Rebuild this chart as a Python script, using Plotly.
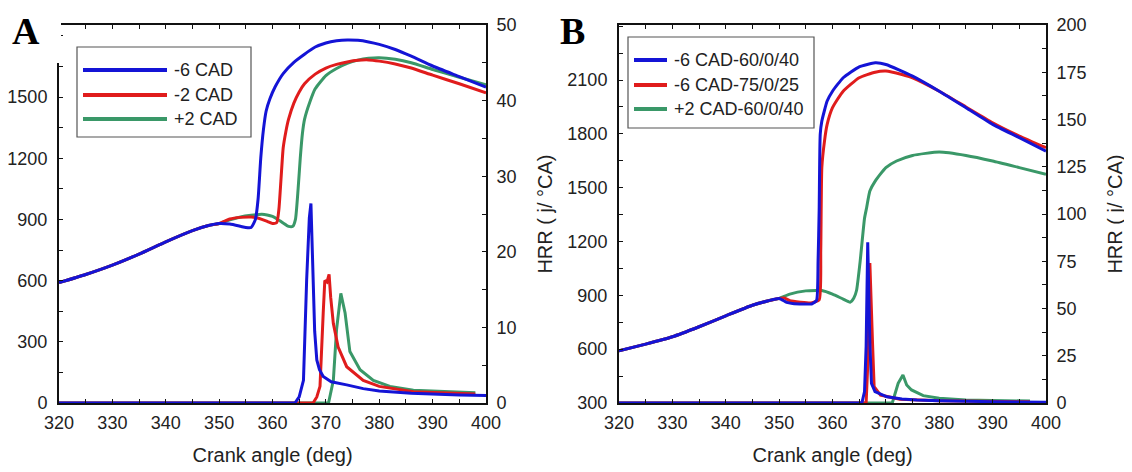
import plotly.graph_objects as go

# ---------------- data: panel A ----------------
ca_comp = [320, 325, 330, 335, 340, 345, 348, 350]
p_comp_A = [590, 630, 676, 730, 790, 845, 870, 880]

ca_blueA = [352, 354, 355, 356, 356.8, 357.3, 357.8, 358.3, 358.8, 359.5, 360.5, 362, 364, 366, 368,
            370, 372, 374, 376, 378, 380, 383, 386, 390, 395, 400]
p_blueA = [877, 866, 860, 860, 900, 1000, 1200, 1340, 1430, 1490, 1550, 1615, 1670, 1710, 1745,
           1765, 1776, 1780, 1778, 1770, 1758, 1733, 1700, 1652, 1600, 1548]

ca_redA = [352, 354, 356, 357, 358, 359, 360, 360.8, 361.2, 361.6, 362, 362.5, 363, 364, 365, 366,
           368, 370, 372, 374, 376, 378, 380, 383, 386, 390, 395, 400]
p_redA = [902, 910, 912, 908, 900, 890, 880, 885, 950, 1100, 1250, 1330, 1390, 1470, 1525, 1565,
          1612, 1642, 1660, 1672, 1680, 1682, 1676, 1662, 1642, 1607, 1565, 1520]

ca_greenA = [352, 354, 356, 358, 359, 360, 361, 362, 363, 363.8, 364.3, 364.8, 365.2, 365.6, 366,
             367, 368, 370, 372, 374, 376, 378, 380, 383, 386, 390, 395, 400]
p_greenA = [898, 912, 920, 925, 922, 915, 900, 882, 866, 866, 900, 1050, 1200, 1320, 1390,
            1475, 1540, 1605, 1640, 1665, 1681, 1690, 1693, 1685, 1668, 1635, 1597, 1560]

hrr_ca_blueA = [320, 364.2, 365, 365.8, 366.4, 366.9, 367.2, 367.6, 367.9, 368.3, 368.8, 369.5, 371,
                373.9, 377, 380, 386, 395, 400]
hrr_blueA = [0, 0, 0.8, 3.0, 16.3, 24.5, 26.4, 16.3, 9.5, 5.7, 4.4, 3.5, 2.8,
             2.4, 1.9, 1.6, 1.3, 1.06, 1.0]

hrr_ca_redA = [320, 367.6, 368.3, 368.9, 369.5, 369.8, 370.2, 370.6, 370.9, 371.4, 372.3, 373.9,
               377, 380, 386.4, 395, 398]
hrr_redA = [0, 0, 0.8, 2.2, 11.9, 16.2, 16.0, 17.0, 14.0, 10.5, 7.4, 4.8,
            3.0, 2.2, 1.5, 1.3, 1.2]

hrr_ca_greenA = [320, 370.5, 371.4, 372.0, 372.8, 373.6, 374.5, 376.4, 378.9, 382, 386.4, 395, 398]
hrr_greenA = [0, 0, 3.0, 9.7, 14.5, 11.9, 6.8, 4.4, 3.0, 2.2, 1.7, 1.4, 1.35]

# ---------------- data: panel B ----------------
p_comp_B = [591, 628, 669, 725, 786, 845, 870, 883]

ca_blueB = [351.4, 352.5, 354.5, 356.1, 357.0, 357.3, 357.5, 357.7, 358, 359, 360, 362, 365, 368,
            370, 375, 380, 385, 390, 395, 400]
p_blueB = [861, 855, 852, 852, 871, 1095, 1375, 1797, 1871, 1983, 2038, 2113, 2174, 2196,
           2187, 2122, 2038, 1946, 1853, 1779, 1704]

ca_redB = [351, 352, 354, 356, 357.5, 357.8, 358, 358.5, 359, 360, 362, 365, 368, 370, 373, 375,
           380, 385, 390, 395, 400]
p_redB = [885, 870, 862, 858, 875, 1150, 1612, 1760, 1853, 1946, 2038, 2113, 2144, 2150, 2131, 2113,
          2038, 1950, 1862, 1788, 1723]

ca_greenB = [352, 355, 357, 358, 360, 362, 363.3, 364, 364.5, 365.2, 366, 366.4, 367, 368, 370, 372,
             375, 380, 385, 390, 395, 400]
p_greenB = [907, 925, 927, 927, 907, 879, 862, 885, 927, 1095, 1330, 1390, 1482, 1537, 1612, 1649,
            1680, 1699, 1680, 1649, 1612, 1575]

hrr_ca_blueB = [320, 365.5, 366.0, 366.3, 366.6, 367.0, 367.3, 367.96, 370.2, 373, 375.8, 380, 390, 400]
hrr_blueB = [0, 0, 6, 30, 85, 31.6, 10.4, 6.0, 3.3, 2.1, 1.6, 1.2, 0.7, 0.4]

hrr_ca_redB = [320, 366.3, 366.6, 367.0, 367.5, 367.8, 369, 372.6, 380, 390, 397]
hrr_redB = [0, 0, 20, 74, 31.6, 8.6, 4.2, 2.0, 1.2, 0.8, 0.6]

hrr_ca_greenB = [320, 371.2, 372.3, 373.2, 373.9, 374.8, 377, 380, 385, 390, 397]
hrr_greenB = [0, 0, 10.4, 14.8, 9.5, 6.9, 3.9, 2.5, 1.6, 1.2, 1.0]

# tick labels
x_ticks = [320, 330, 340, 350, 360, 370, 380, 390, 400]
yA_ticks = [0, 300, 600, 900, 1200, 1500]
yA2_ticks = [0, 10, 20, 30, 40, 50]
yB_ticks = [300, 600, 900, 1200, 1500, 1800, 2100]
yB2_ticks = [0, 25, 50, 75, 100, 125, 150, 175, 200]

names_A = ["-6 CAD", "-2 CAD", "+2 CAD"]
names_B = ["-6 CAD-60/0/40", "-6 CAD-75/0/25", "+2 CAD-60/0/40"]
colors = ["#1414d6", "#e01c1c", "#3a9868"]

# the page body has an 8px margin: lay out in window pixels shifted by it
OFF = 8
W, H = 1132 - OFF, 472 - OFF
TOP, BOT = 25, 403            # plot-area top/bottom in window pixels
MT, MB = TOP - OFF, H - (BOT - OFF)
PLOT_H = BOT - TOP

def px_x(x):
    return (x - OFF) / W

def px_y(y):
    return (BOT - y) / PLOT_H

fig = go.Figure()

LW = 3
def add(x, y, c, xa, ya, smooth):
    line = dict(color=c, width=LW)
    if smooth:
        line.update(shape="spline", smoothing=0.5)
    fig.add_trace(go.Scatter(x=x, y=y, mode="lines", line=line,
                             xaxis=xa, yaxis=ya, showlegend=False, hoverinfo="skip"))

# Panel A pressure (left axis)
add(ca_comp + ca_greenA, p_comp_A + p_greenA, colors[2], "x", "y", True)
add(ca_comp + ca_redA, p_comp_A + p_redA, colors[1], "x", "y", True)
add(ca_comp + ca_blueA, p_comp_A + p_blueA, colors[0], "x", "y", True)
# Panel A HRR (right axis)
add(hrr_ca_greenA, hrr_greenA, colors[2], "x", "y2", False)
add(hrr_ca_redA, hrr_redA, colors[1], "x", "y2", False)
add(hrr_ca_blueA, hrr_blueA, colors[0], "x", "y2", False)
# Panel B pressure
add(ca_comp + ca_greenB, p_comp_B + p_greenB, colors[2], "x2", "y3", True)
add(ca_comp + ca_redB, p_comp_B + p_redB, colors[1], "x2", "y3", True)
add(ca_comp + ca_blueB, p_comp_B + p_blueB, colors[0], "x2", "y3", True)
# Panel B HRR
add(hrr_ca_greenB, hrr_greenB, colors[2], "x2", "y4", False)
add(hrr_ca_redB, hrr_redB, colors[1], "x2", "y4", False)
add(hrr_ca_blueB, hrr_blueB, colors[0], "x2", "y4", False)

FONT = "Liberation Sans, Arial, sans-serif"
tickfont = dict(family=FONT, size=18, color="#222")
titlefont = dict(family=FONT, size=20, color="#222")
TK = dict(ticks="inside", ticklen=4, tickwidth=1.2, tickcolor="#111")

def xax(domain, anchor):
    return dict(domain=domain, anchor=anchor, range=[320, 400], tickmode="array", tickvals=x_ticks,
                minor=dict(tickmode="linear", tick0=320, dtick=5, **TK), **TK,
                showline=True, linecolor="#111", linewidth=2, mirror="ticks",
                showgrid=False, zeroline=False, tickfont=tickfont, automargin=False,
                ticklabelstandoff=2,
                title=dict(text="Crank angle (deg)", font=titlefont, standoff=16))

def yleft(rng, tv, dt, anchor):
    return dict(domain=[0, 1], anchor=anchor, range=rng, tickmode="array", tickvals=tv,
                minor=dict(tickmode="linear", tick0=tv[0], dtick=dt / 2, **TK), **TK,
                showline=True, linecolor="#111", linewidth=2, showgrid=False, zeroline=False,
                tickfont=tickfont, ticklabelstandoff=6, automargin=False)

def yright(rng, tv, dt, overlay, anchor):
    return dict(range=rng, tickmode="array", tickvals=tv, overlaying=overlay, side="right", anchor=anchor,
                minor=dict(tickmode="linear", tick0=0, dtick=dt / 2, **TK), **TK,
                showline=True, linecolor="#111", linewidth=2, showgrid=False, zeroline=False,
                tickfont=tickfont, ticklabelstandoff=5, automargin=False,
                title=dict(text="HRR ( j/ °CA)", font=titlefont, standoff=22))

dA = [px_x(59), px_x(486)]
dB = [px_x(619), px_x(1046)]

fig.update_layout(
    width=W, height=H,
    margin=dict(l=0, r=0, t=MT, b=MB, autoexpand=False),
    paper_bgcolor="white", plot_bgcolor="white",
    xaxis=xax(dA, "y"),
    xaxis2=xax(dB, "y3"),
    yaxis=yleft([0, 1853], yA_ticks, 300, "x"),
    yaxis2=yright([0, 50], yA2_ticks, 10, "y", "x"),
    yaxis3=yleft([300, 2407], yB_ticks, 300, "x2"),
    yaxis4=yright([0, 200], yB2_ticks, 25, "y3", "x2"),
    showlegend=False,
)

shapes = []
annotations = []

# white patch, as in the reference, hiding panel A's top-left corner behind the letter
shapes.append(dict(type="rect", xref="paper", yref="paper", layer="above",
                   x0=0, x1=px_x(61), y0=px_y(63), y1=px_y(OFF),
                   fillcolor="white", line=dict(width=0)))

def legend(box, line_x, text_x, ys, names):
    shapes.append(dict(type="rect", xref="paper", yref="paper", layer="above",
                       x0=px_x(box[0]), x1=px_x(box[1]), y0=px_y(box[3]), y1=px_y(box[2]),
                       fillcolor="white", line=dict(color="#555", width=1.2)))
    for y, name, c in zip(ys, names, colors):
        shapes.append(dict(type="line", xref="paper", yref="paper", layer="above",
                           x0=px_x(line_x[0]), x1=px_x(line_x[1]), y0=px_y(y), y1=px_y(y),
                           line=dict(color=c, width=4)))
        annotations.append(dict(text=name, xref="paper", yref="paper", x=px_x(text_x), y=px_y(y),
                                xanchor="left", yanchor="middle", showarrow=False,
                                font=dict(family=FONT, size=18, color="#222")))

legend([77, 251, 47, 137], [83, 167], 172, [70, 95, 119], names_A)
legend([628, 814, 37, 128], [634, 667], 672, [60, 85, 109], names_B)

LETTER = dict(family="Liberation Serif, Times New Roman, serif", size=38, color="#000")
annotations.append(dict(text="<b>A</b>", xref="paper", yref="paper", x=px_x(26), y=px_y(OFF),
                        xanchor="center", yanchor="top", showarrow=False, font=LETTER))
annotations.append(dict(text="<b>B</b>", xref="paper", yref="paper", x=px_x(572), y=px_y(OFF),
                        xanchor="center", yanchor="top", showarrow=False, font=LETTER))

fig.update_layout(shapes=shapes, annotations=annotations)
fig.write_html("out.html")
